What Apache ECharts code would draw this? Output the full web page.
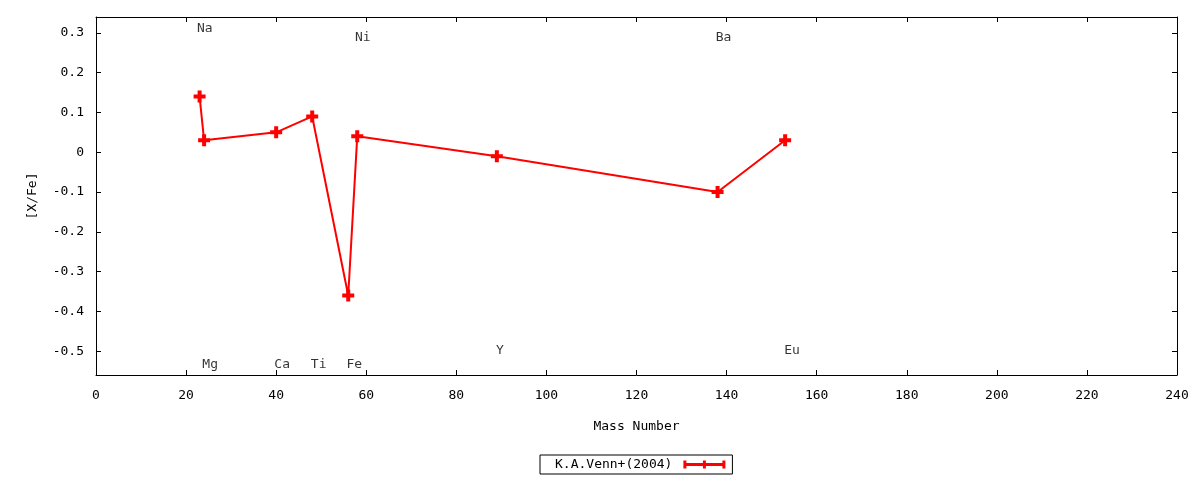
<!DOCTYPE html>
<html>
<head>
<meta charset="utf-8">
<title>[X/Fe] vs Mass Number</title>
<script src="https://cdn.jsdelivr.net/npm/echarts@6/dist/echarts.min.js"></script>
<style>
  html, body { margin: 0; padding: 0; background: #fff; }
  #chart { width: 1200px; height: 480px; }
</style>
</head>
<body>
<div id="chart"></div>
<script>
// 元素、质量数、[X/Fe]
const elements = ['Na', 'Mg', 'Ca', 'Ti', 'Fe', 'Ni', 'Y', 'Ba', 'Eu']
const massNumbers = [23, 24, 40, 48, 56, 58, 89, 138, 153]
const xFe = [0.14, 0.03, 0.05, 0.09, -0.36, 0.04, -0.01, -0.10, 0.03]

// 元素名标注的位置（数据坐标）
const labelX = [22.4, 23.6, 39.6, 47.7, 55.6, 57.5, 88.8, 137.6, 152.8]
const labelY = [0.312, -0.533, -0.533, -0.533, -0.533, 0.287, -0.498, 0.287, -0.498]

const yTicks = [-0.5, -0.4, -0.3, -0.2, -0.1, 0, 0.1, 0.2, 0.3]
const seriesName = 'K.A.Venn+(2004)'

const font = 'DejaVu Sans Mono'
const plusSymbol = 'path://M4,0H8V4H12V8H8V12H4V8H0V4H4Z'
const legendIcon = 'path://M0,0H3V2.5H19.5V0H22.5V2.5H39V0H42V8H39V5.5H22.5V8H19.5V5.5H3V8H0Z'

const points = massNumbers.map((m, i) => [m, xFe[i]])
const labels = elements.map((e, i) => ({ name: e, value: [labelX[i], labelY[i]] }))

const xAxisBase = {
    type: 'value',
    min: 0,
    max: 240,
    interval: 20,
    splitLine: { show: false },
    axisLine: { show: true, onZero: false, lineStyle: { color: '#000', width: 1 } },
    axisTick: { show: true, inside: true, length: 5, lineStyle: { color: '#000' } }
}
const yAxisBase = {
    type: 'value',
    min: -0.56,
    max: 0.34,
    splitLine: { show: false },
    axisLine: { show: true, onZero: false, lineStyle: { color: '#000', width: 1 } },
    axisTick: { show: true, inside: true, length: 5, customValues: yTicks, lineStyle: { color: '#000' } }
}

const myChart = echarts.init(document.getElementById('chart'))
myChart.setOption({
    animation: false,
    backgroundColor: '#fff',
    textStyle: { fontFamily: font, color: '#000' },
    grid: { left: 96, right: 23, top: 17, bottom: 105, containLabel: false },
    legend: {
        data: [{ name: seriesName, icon: legendIcon }],
        left: 540,
        top: 455,
        align: 'right',
        padding: [3, 7, 3, 15],
        itemWidth: 42,
        itemHeight: 8,
        borderColor: '#000',
        borderWidth: 1,
        borderRadius: 0,
        selectedMode: false,
        textStyle: { fontFamily: font, fontSize: 13, color: '#000', padding: [0, 6, 0, 0] }
    },
    xAxis: [
        Object.assign({}, xAxisBase, {
            position: 'bottom',
            name: 'Mass Number',
            nameLocation: 'middle',
            nameGap: 45,
            nameTextStyle: { fontFamily: font, fontSize: 13, color: '#000' },
            axisLabel: { show: true, margin: 14, fontFamily: font, fontSize: 13, color: '#000' }
        }),
        Object.assign({}, xAxisBase, { position: 'top', axisLabel: { show: false } })
    ],
    yAxis: [
        Object.assign({}, yAxisBase, {
            position: 'left',
            name: '[X/Fe]',
            nameLocation: 'middle',
            nameGap: 57,
            nameTextStyle: { fontFamily: font, fontSize: 13, color: '#000' },
            axisLabel: { show: true, margin: 12, customValues: yTicks, fontFamily: font, fontSize: 13, color: '#000' }
        }),
        Object.assign({}, yAxisBase, { position: 'right', axisLabel: { show: false } })
    ],
    series: [
        {
            name: seriesName,
            type: 'line',
            data: points,
            symbol: plusSymbol,
            symbolSize: 12,
            showAllSymbol: true,
            itemStyle: { color: '#ff0000' },
            lineStyle: { color: '#ff0000', width: 2 }
        },
        {
            name: 'labels',
            type: 'scatter',
            data: labels,
            symbolSize: 0,
            silent: true,
            label: {
                show: true,
                position: 'right',
                distance: 0,
                formatter: p => p.name,
                fontFamily: font,
                fontSize: 13,
                color: '#000'
            }
        }
    ]
})
</script>
</body>
</html>
